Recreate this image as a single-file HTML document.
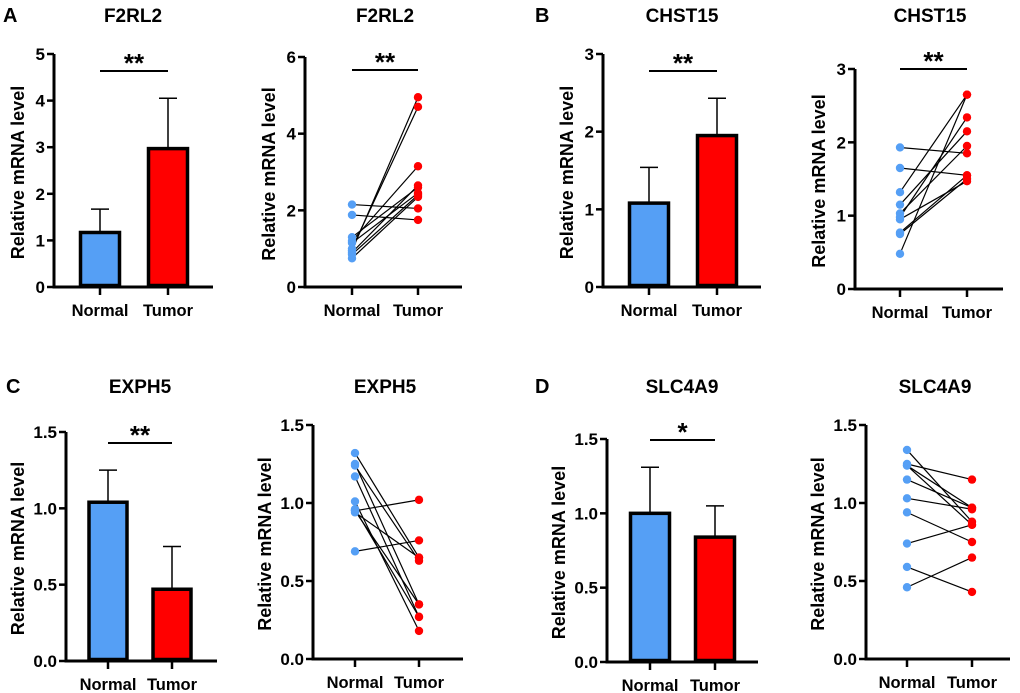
<!DOCTYPE html>
<html><head><meta charset="utf-8"><style>
body{margin:0;background:#fff}
svg{display:block;font-family:"Liberation Sans",Arial,sans-serif;font-weight:bold}
</style></head><body>
<svg id="fig" width="1020" height="693" viewBox="0 0 1020 693"></svg>
<script>
// ---- data ----
const groups = ["Normal", "Tumor"];
const barTitles = ["F2RL2", "CHST15", "EXPH5", "SLC4A9"];
const barMeans = [[1.17, 2.97], [1.08, 1.95], [1.04, 0.47], [1.0, 0.84]];
const barErrTops = [[1.67, 4.05], [1.54, 2.43], [1.25, 0.75], [1.31, 1.05]];
const sigLabels = ["**", "**", "**", "*"];
const barTicks = [["0","1","2","3","4","5"], ["0","1","2","3"], ["0.0","0.5","1.0","1.5"], ["0.0","0.5","1.0","1.5"]];
const pairTicks = [["0","2","4","6"], ["0","1","2","3"], ["0.0","0.5","1.0","1.5"], ["0.0","0.5","1.0","1.5"]];
const pairNormalA = [2.15, 1.88, 0.95, 1.0, 1.2, 0.9, 1.3, 1.15, 0.75, 0.85];
const pairTumorA  = [2.05, 1.75, 4.95, 4.7, 3.15, 2.65, 2.6, 2.45, 2.35, 2.4];
const pairNormalB = [1.93, 1.65, 1.32, 1.15, 1.03, 0.98, 0.75, 0.77, 0.48, 0.95];
const pairTumorB  = [1.85, 1.55, 2.65, 2.15, 1.95, 2.34, 1.5, 1.55, 2.65, 1.47];
const pairNormalC = [0.95, 0.69, 1.32, 1.24, 0.94, 1.25, 1.17, 1.01, 0.96, 0.95];
const pairTumorC  = [1.02, 0.76, 0.65, 0.63, 0.65, 0.35, 0.27, 0.18, 0.27, 0.35];
const pairNormalD = [1.34, 1.25, 1.24, 1.24, 1.15, 1.03, 0.94, 0.74, 0.59, 0.46];
const pairTumorD  = [0.88, 1.15, 0.97, 0.86, 0.97, 0.96, 0.75, 0.86, 0.43, 0.65];
const pairSig = ["**", "**", "", ""];

// ---- layout ----
const NS = "http://www.w3.org/2000/svg";
const svg = document.getElementById("fig");
function mk(tag, attrs, parent, text) {
  const e = document.createElementNS(NS, tag);
  for (const k in attrs) e.setAttribute(k, attrs[k]);
  if (text !== undefined) e.textContent = text;
  (parent || svg).appendChild(e);
  return e;
}
const barLayout = [
  {ax:54, y0:287, y1:54, xe:213, cx:[100,168], bw:42, sigY:71, tx:133, ty:22, L:"A", lx:3, ly:22},
  {ax:603, y0:287, y1:54, xe:761, cx:[649,717], bw:42, sigY:71, tx:682, ty:22, L:"B", lx:535, ly:22},
  {ax:66, y0:661, y1:432, xe:217, cx:[108,172], bw:41, sigY:443, tx:140, ty:393, L:"C", lx:6, ly:393},
  {ax:607, y0:662, y1:439, xe:758, cx:[650,715], bw:42, sigY:440, tx:682, ty:393, L:"D", lx:535, ly:393}
];
const pairLayout = [
  {ax:305, y0:287, y1:57, xe:462, cx:[352,418], sigY:70, tx:385, ty:22},
  {ax:855, y0:289, y1:69, xe:1003, cx:[900,967], sigY:69, tx:930, ty:22},
  {ax:313, y0:659, y1:425, xe:463, cx:[355,419], sigY:0, tx:385, ty:393},
  {ax:866, y0:659, y1:425, xe:1010, cx:[907,972], sigY:0, tx:935, ty:393}
];
const pairN = [pairNormalA, pairNormalB, pairNormalC, pairNormalD];
const pairT = [pairTumorA, pairTumorB, pairTumorC, pairTumorD];

function axes(g, lay, ticks) {
  const max = parseFloat(ticks[ticks.length-1]);
  const y = v => lay.y0 - (v / max) * (lay.y0 - lay.y1);
  const yl = mk("line", {x1:lay.ax, y1:lay.y1, x2:lay.ax, y2:lay.y0+1.5, stroke:"#000","stroke-width":3}, g);
  
  
  const xl = mk("line", {x1:lay.ax-1.5, y1:lay.y0, x2:lay.xe, y2:lay.y0, stroke:"#000","stroke-width":3}, g);
  
  
  ticks.forEach(t => {
    const yy = y(parseFloat(t));
    mk("line", {x1:lay.ax-7, y1:yy, x2:lay.ax, y2:yy, stroke:"#000","stroke-width":2.5}, g);
    const tl = mk("text", {x:lay.ax-9, y:yy+6, "text-anchor":"end","font-size":17}, g, t);
    
    
  });
  groups.forEach((gname, i) => {
    mk("line", {x1:lay.cx[i], y1:lay.y0, x2:lay.cx[i], y2:lay.y0+8, stroke:"#000","stroke-width":2.5}, g);
    const xt = mk("text", {x:lay.cx[i], y:lay.y0+29, "text-anchor":"middle","font-size":16.5}, g, gname);
    
    
  });
  const midY = (lay.y0 + lay.y1) / 2 + 2;
  const lx = lay.ax - (ticks[0].length > 1 ? 48 : 36);
  const ylab = mk("text", {x:lx, y:midY, "text-anchor":"middle","font-size":18, transform:`rotate(-90 ${lx} ${midY})`, dy:6}, g, "Relative mRNA level");
  
  
  return y;
}
function sig(g, lay, label) {
  if (!label) return;
  const sl = mk("line", {x1:lay.cx[0], y1:lay.sigY, x2:lay.cx[1], y2:lay.sigY, stroke:"#000","stroke-width":2}, g);
  
  
  const st = mk("text", {x:(lay.cx[0]+lay.cx[1])/2, y:lay.sigY+1, "text-anchor":"middle","font-size":26}, g, label);
  
  
}
const colors = ["#559ff5", "#ff0000"];

barLayout.forEach((lay, p) => {
  const g = mk("g", {});
  
  
  const pl = mk("text", {x:lay.lx, y:lay.ly, "font-size":20}, g, lay.L);
  
  
  const ti = mk("text", {x:lay.tx, y:lay.ty, "text-anchor":"middle","font-size":19}, g, barTitles[p]);
  
  
  const y = axes(g, lay, barTicks[p]);
  groups.forEach((gname, i) => {
    const cx = lay.cx[i];
    const er = mk("line", {x1:cx, y1:y(barMeans[p][i]), x2:cx, y2:y(barErrTops[p][i]), stroke:"#000","stroke-width":1.5}, g);
    
    
    mk("line", {x1:cx-9, y1:y(barErrTops[p][i]), x2:cx+9, y2:y(barErrTops[p][i]), stroke:"#000","stroke-width":1.5}, g);
    const b = mk("rect", {x:cx-lay.bw/2+1.5, y:y(barMeans[p][i]), width:lay.bw-3, height:lay.y0-y(barMeans[p][i])-1.5, fill:colors[i], stroke:"#000","stroke-width":3.5}, g);
    
    
  });
  sig(g, lay, sigLabels[p]);
});

pairLayout.forEach((lay, p) => {
  const g = mk("g", {});
  
  
  const ti = mk("text", {x:lay.tx, y:lay.ty, "text-anchor":"middle","font-size":19}, g, barTitles[p]);
  
  
  const y = axes(g, lay, pairTicks[p]);
  pairN[p].forEach((v, k) => {
    const ln = mk("line", {x1:lay.cx[0], y1:y(v), x2:lay.cx[1], y2:y(pairT[p][k]), stroke:"#000","stroke-width":1.2}, g);
    
    
  });
  pairN[p].forEach((v, k) => {
    const a = mk("circle", {cx:lay.cx[0], cy:y(v), r:4.2, fill:colors[0]}, g);
    
    
    const b = mk("circle", {cx:lay.cx[1], cy:y(pairT[p][k]), r:4.2, fill:colors[1]}, g);
    
    
  });
  sig(g, lay, pairSig[p]);
});
</script>
</body></html>
